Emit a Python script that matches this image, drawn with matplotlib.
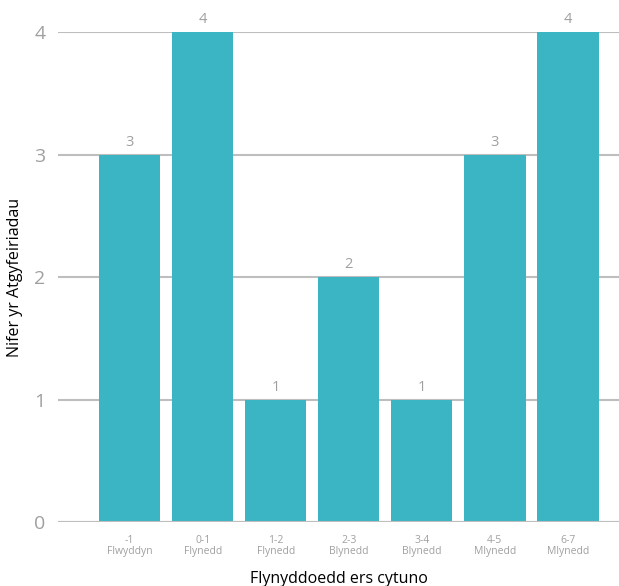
import matplotlib
matplotlib.use("Agg")
import matplotlib.pyplot as plt

plt.rcParams["font.family"] = ["Open Sans", "DejaVu Sans"]

# données
categories = ["-1\nFlwyddyn", "0-1\nFlynedd", "1-2\nFlynedd", "2-3\nBlynedd",
              "3-4\nBlynedd", "4-5\nMlynedd", "6-7\nMlynedd"]
values = [3, 4, 1, 2, 1, 3, 4]
y_ticks = [0, 1, 2, 3, 4]

BAR_COLOR = "#3BB4C4"
GRID_COLOR = "#BEBEBE"
TEXT_GRAY = "#A0A0A0"

fig = plt.figure(figsize=(6.19, 5.86), dpi=100)
ax = fig.add_axes([0.0937, 0.109, 0.9063, 0.8364])

x = list(range(len(categories)))
bars = ax.bar(x, values, width=0.84, color=BAR_COLOR, zorder=3)

for xi, v in zip(x, values):
    ax.text(xi, v + 0.04, str(v), ha="center", va="bottom",
            fontsize=10.5, color=TEXT_GRAY, clip_on=False)

ax.set_xlim(-0.98, 6.7)
ax.set_ylim(0, 4)
ax.set_yticks(y_ticks)
ax.set_yticklabels([str(t) for t in y_ticks], fontsize=14, color=TEXT_GRAY)
ax.set_xticks(x)
ax.set_xticklabels(categories, fontsize=7.5, color=TEXT_GRAY, linespacing=1.0)
ax.tick_params(axis="both", length=0)
ax.tick_params(axis="y", pad=9)
ax.tick_params(axis="x", pad=9)

ax.grid(axis="y", color=GRID_COLOR, linewidth=1.5, zorder=0)
for s in ax.spines.values():
    s.set_visible(False)
ax.axhline(0, color=GRID_COLOR, linewidth=1.5, zorder=4)

ax.set_xlabel("Flynyddoedd ers cytuno", fontsize=11.5, color="black", labelpad=10)
ax.set_ylabel("Nifer yr Atgyfeiriadau", fontsize=11.5, color="black", labelpad=8)

fig.savefig("out.png", dpi=100)
